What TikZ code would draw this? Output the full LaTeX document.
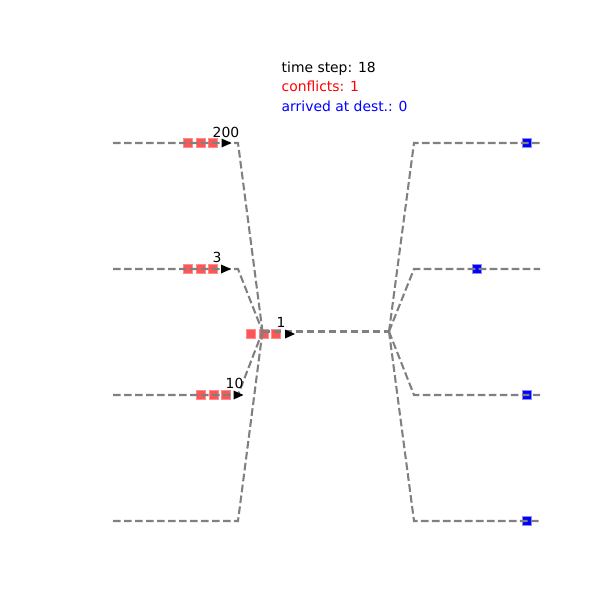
\documentclass[tikz,border=0pt]{standalone}
\usepackage{fontspec}
\setmainfont{DejaVu Sans}
\begin{document}
\begin{tikzpicture}[x=1pt,y=-1pt,
  road/.style={draw={rgb,255:red,128;green,128;blue,128},line width=2.08pt,dash pattern=on 7.7pt off 3.3pt},
  veh/.style={rectangle,minimum size=9pt,inner sep=0pt,fill={rgb,255:red,255;green,85;blue,85},draw={rgb,255:red,255;green,140;blue,140},line width=1pt},
  arr/.style={rectangle,minimum size=9.5pt,inner sep=0pt,fill=blue,draw={rgb,255:red,140;green,140;blue,255},line width=0.8pt},
  lbl/.style={anchor=base west,inner sep=0pt,font=\fontsize{13.9}{16}\selectfont},
  head/.style={fill=black,draw=none}]
\useasboundingbox (0,0) rectangle (600,600);
% road points
\coordinate (L1s) at (113,143); \coordinate (L1b) at (238,143);
\coordinate (L2s) at (113,269); \coordinate (L2b) at (238,269);
\coordinate (L3s) at (113,395); \coordinate (L3b) at (238,395);
\coordinate (L4s) at (113,521); \coordinate (L4b) at (238,521);
\coordinate (M) at (262.5,331.5); \coordinate (D) at (389,331.5);
\coordinate (R1b) at (414,143); \coordinate (R1e) at (540,143);
\coordinate (R2b) at (414,269); \coordinate (R2e) at (540,269);
\coordinate (R3b) at (414,395); \coordinate (R3e) at (540,395);
\coordinate (R4b) at (414,521); \coordinate (R4e) at (540,521);
% arrived vehicles
\node[arr] (a1) at (527,143) {};
\node[arr] (a2) at (477,269) {};
\node[arr] (a3) at (527,395) {};
\node[arr] (a4) at (527,521) {};
% waiting vehicles
\foreach \i/\x in {1/188,2/200.5,3/213} \node[veh] (v1\i) at (\x,143) {};
\foreach \i/\x in {1/188,2/200.5,3/213} \node[veh] (v2\i) at (\x,269) {};
\foreach \i/\x in {1/251,2/263.5,3/276} \node[veh] (vc\i) at (\x,334) {};
\foreach \i/\x in {1/201,2/213.5,3/226} \node[veh] (v4\i) at (\x,395) {};
% roads
\draw[road] (L1s) -- (L1b) -- (M);
\draw[road] (L2s) -- (L2b) -- (M);
\draw[road] (L3s) -- (L3b) -- (M);
\draw[road] (L4s) -- (L4b) -- (M);
\draw[road] (M) -- (D);
\draw[road] (D) -- (R1b) -- (R1e);
\draw[road] (D) -- (R2b) -- (R2e);
\draw[road] (D) -- (R3b) -- (R3e);
\draw[road] (D) -- (R4b) -- (R4e);
% heads
\foreach \n/\x/\y in {h1/226.5/143,h2/226/269,hc/290/334,h4/238.5/395}
  \fill[head] (\x-5,\y-4.5) -- (\x+5,\y) -- (\x-5,\y+4.5) -- cycle;
% labels
\node[lbl] (t200) at (212.5,137) {200};
\node[lbl] (t3) at (212.5,262) {3};
\node[lbl] (t1) at (276.5,327) {1};
\node[lbl] (t10) at (225.5,388) {10};
% info
\node[lbl] (ts) at (281.5,72) {time step: 18};
\node[lbl,text=red] (cf) at (281.5,91.5) {conflicts: 1};
\node[lbl,text=blue] (ad) at (281.5,111) {arrived at dest.: 0};
\end{tikzpicture}
\end{document}
